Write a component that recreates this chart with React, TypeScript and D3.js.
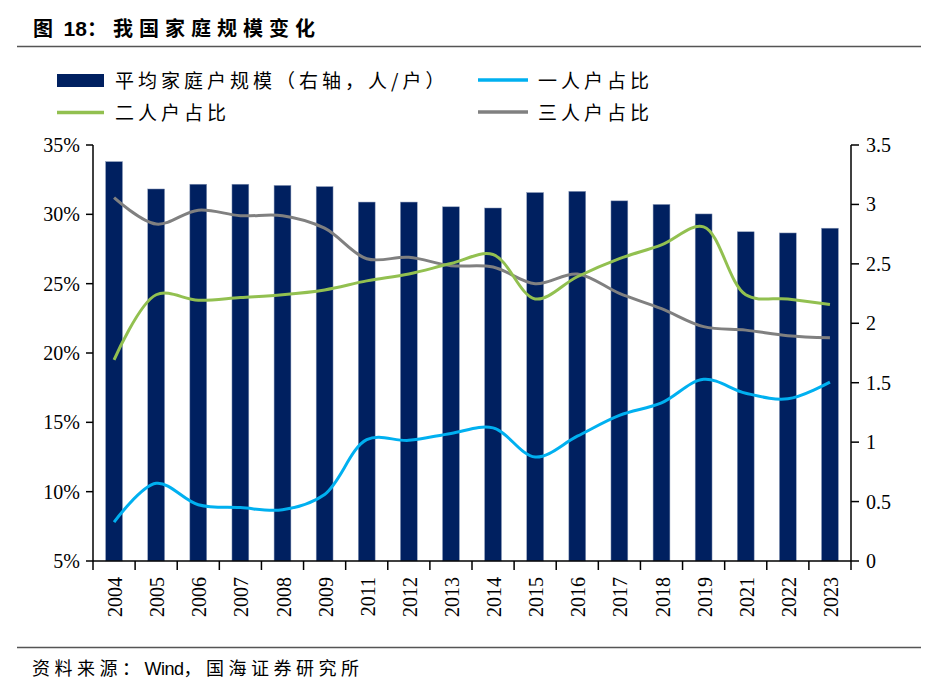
import React from "react";
import * as d3 from "d3";

const years = ["2004","2005","2006","2007","2008","2009","2011","2012","2013","2014","2015","2016","2017","2018","2019","2021","2022","2023"];
const avgSize = [3.36,3.13,3.17,3.17,3.16,3.15,3.02,3.02,2.98,2.97,3.10,3.11,3.03,3.00,2.92,2.77,2.76,2.80];
const onePerson = [7.8,10.6,9.06,8.85,8.7,9.8,13.75,13.7,14.2,14.6,12.5,14.0,15.5,16.4,18.1,17.1,16.7,17.9];
const twoPerson = [19.5,24.2,23.8,24.0,24.2,24.55,25.2,25.7,26.45,27.1,23.9,25.5,26.8,27.8,29.1,24.2,23.9,23.5];
const threePerson = [31.2,29.3,30.3,29.9,29.9,29.0,26.8,26.9,26.3,26.2,25.0,25.7,24.3,23.2,21.9,21.65,21.25,21.1];
const leftTicks = [5,10,15,20,25,30,35];
const rightTicks = [0,0.5,1,1.5,2,2.5,3,3.5];

const titleParts = ["图 ", "18", "：我国家庭规模变化"];
const sourceParts = ["资料来源：", "Wind", "，国海证券研究所"];
const legendBar = "平均家庭户规模（右轴，人/户）";
const legendOne = "一人户占比";
const legendTwo = "二人户占比";
const legendThree = "三人户占比";

const NAVY = "#002060";
const BLUE = "#00B0F0";
const GREEN = "#92C050";
const GRAY = "#808080";
const CJK = "'Noto Sans CJK SC', 'Noto Sans', sans-serif";
const LATIN = "'Liberation Sans', Arial, sans-serif";
const SERIF = "'Liberation Serif', 'Times New Roman', serif";

export default function App() {
  const left = 93, right = 851, top = 145, bottom = 561;
  const x = d3.scaleBand<string>().domain(years).range([left, right]).paddingInner(0.6).paddingOuter(0.3);
  const yL = d3.scaleLinear().domain([5, 35]).range([bottom, top]);
  const yR = d3.scaleLinear().domain([0, 3.5]).range([bottom, top]);
  const cx = (i: number) => (x(years[i]) as number) + x.bandwidth() / 2;
  const line = d3.line<number>().x((_, i) => cx(i)).y((d) => yL(d)).curve(d3.curveCatmullRom.alpha(0.5));
  const step = x.step();
  const xTicks = d3.range(years.length + 1).map((i) => left + i * step);

  return (
    <svg width={933} height={685} style={{ position: "absolute", left: 0, top: 0, background: "#fff" }}>
      <text x={33} y={36} fontFamily={CJK} fontWeight="bold" fontSize={20} fill="#000">
        <tspan letterSpacing={3}>{titleParts[0]}</tspan>
        <tspan fontFamily={LATIN} fontSize={21} letterSpacing={0}>{titleParts[1]}</tspan>
        <tspan letterSpacing={6}>{titleParts[2]}</tspan>
      </text>
      <line x1={17} x2={921} y1={46.5} y2={46.5} stroke="#555" strokeWidth={1.5} />

      {/* legend */}
      <rect x={57} y={74} width={47} height={13} fill={NAVY} />
      <text x={115} y={88} fontFamily={CJK} fontSize={19} letterSpacing={4} fill="#000">{legendBar}</text>
      <line x1={478} x2={528} y1={80} y2={80} stroke={BLUE} strokeWidth={3.5} />
      <text x={538} y={88} fontFamily={CJK} fontSize={19} letterSpacing={4} fill="#000">{legendOne}</text>
      <line x1={57} x2={104} y1={112.5} y2={112.5} stroke={GREEN} strokeWidth={3.5} />
      <text x={115} y={120} fontFamily={CJK} fontSize={19} letterSpacing={4} fill="#000">{legendTwo}</text>
      <line x1={478} x2={528} y1={112} y2={112} stroke={GRAY} strokeWidth={3.5} />
      <text x={538} y={120} fontFamily={CJK} fontSize={19} letterSpacing={4} fill="#000">{legendThree}</text>

      {/* bars */}
      {avgSize.map((v, i) => (
        <rect key={years[i]} x={x(years[i])} y={yR(v)} width={x.bandwidth()} height={bottom - yR(v)} fill={NAVY} stroke="#8a9ab8" strokeWidth={0.5} />
      ))}

      {/* lines */}
      <path d={line(threePerson) || ""} fill="none" stroke={GRAY} strokeWidth={3} />
      <path d={line(twoPerson) || ""} fill="none" stroke={GREEN} strokeWidth={3} />
      <path d={line(onePerson) || ""} fill="none" stroke={BLUE} strokeWidth={3} />

      {/* left axis */}
      <line x1={left} x2={left} y1={top} y2={bottom} stroke="#000" strokeWidth={1.5} />
      {leftTicks.map((t) => (
        <g key={t}>
          <line x1={left - 7} x2={left} y1={yL(t)} y2={yL(t)} stroke="#000" strokeWidth={1.5} />
          <text x={80} y={yL(t)} dy="0.35em" textAnchor="end" fontFamily={SERIF} fontSize={20} fill="#000">{t + "%"}</text>
        </g>
      ))}

      {/* right axis */}
      <line x1={right} x2={right} y1={top} y2={bottom} stroke="#000" strokeWidth={1.5} />
      {rightTicks.map((t) => (
        <g key={t}>
          <line x1={right} x2={right + 8} y1={yR(t)} y2={yR(t)} stroke="#000" strokeWidth={1.5} />
          <text x={866} y={yR(t)} dy="0.35em" textAnchor="start" fontFamily={SERIF} fontSize={20} fill="#000">{String(t)}</text>
        </g>
      ))}

      {/* x axis */}
      <line x1={left} x2={right} y1={bottom} y2={bottom} stroke="#000" strokeWidth={1.5} />
      {xTicks.map((t, i) => (
        <line key={i} x1={t} x2={t} y1={bottom} y2={bottom + 9} stroke="#000" strokeWidth={1.5} />
      ))}
      {years.map((yr, i) => (
        <text key={yr} transform={`translate(${cx(i) + 1},577) rotate(-90)`} textAnchor="end" dy="0.35em" fontFamily={SERIF} fontSize={20} fill="#000">{yr}</text>
      ))}

      <line x1={17} x2={921} y1={647.5} y2={647.5} stroke="#555" strokeWidth={1.5} />
      <text x={32} y={675} fontFamily={CJK} fontSize={18} fill="#000">
        <tspan letterSpacing={4.5}>{sourceParts[0]}</tspan>
        <tspan fontFamily={LATIN} letterSpacing={-0.5}>{sourceParts[1]}</tspan>
        <tspan letterSpacing={4.5}>{sourceParts[2]}</tspan>
      </text>
    </svg>
  );
}
